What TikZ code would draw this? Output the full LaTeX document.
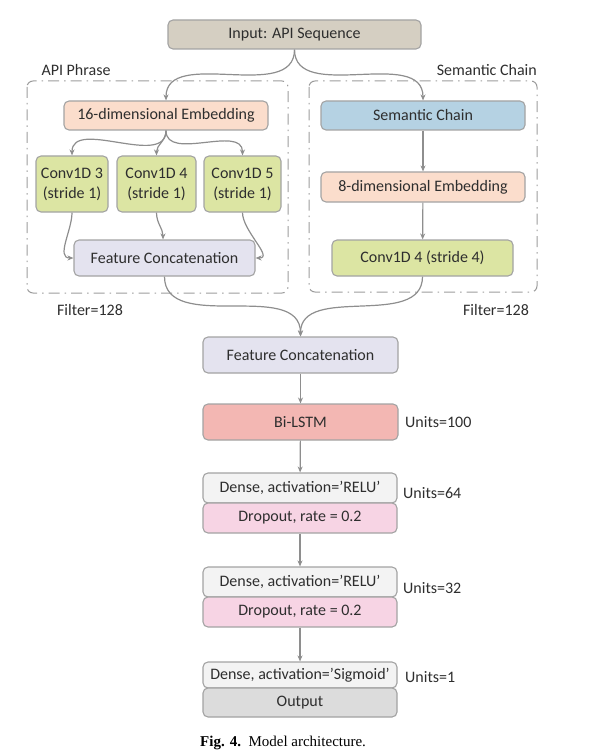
\documentclass[tikz,border=0pt]{standalone}
\usepackage{fontspec}
\setmainfont{Carlito}
\newfontfamily\capfont{Liberation Serif}
\usetikzlibrary{arrows.meta}
\definecolor{bordc}{HTML}{A3A3A3}
\definecolor{arrc}{HTML}{8E8E8E}
\definecolor{txtc}{HTML}{2E2E2E}
\definecolor{inpc}{HTML}{D5CFC2}
\definecolor{peach}{HTML}{FBDDCC}
\definecolor{greenc}{HTML}{DCE5A3}
\definecolor{lavc}{HTML}{E4E3EF}
\definecolor{bluec}{HTML}{B5D2E3}
\definecolor{salmc}{HTML}{F3B7B3}
\definecolor{whc}{HTML}{F3F3F3}
\definecolor{pinkc}{HTML}{F7D4E4}
\definecolor{grayc}{HTML}{DCDCDC}
\definecolor{dashc}{HTML}{9C9C9C}
\tikzset{
  blk/.style={draw=bordc, line width=1.1pt, rounded corners=5pt, inner sep=0pt,
    text=txtc, font=\fontsize{16}{20}\selectfont, align=center},
  lbl/.style={text=txtc, font=\fontsize{16}{20}\selectfont, inner sep=0pt},
  arr/.style={draw=arrc, line width=1.2pt, -{Stealth[length=6pt,width=5pt]}},
  grp/.style={draw=dashc, line width=1pt, rounded corners=6pt,
    dash pattern=on 11pt off 5pt on 1.5pt off 5pt}
}
\begin{document}
\begin{tikzpicture}[x=1pt,y=-1pt]
\useasboundingbox (0,0) rectangle (590,754);
% groups
\draw[grp] (27,81) rectangle (288,293);
\draw[grp] (309,81) rectangle (537,292);
\node[lbl] (lapi) at (76,70) {API Phrase};
\node[lbl, anchor=east] (lsem) at (537,70) {Semantic Chain};
\node[lbl] (fil1) at (90,310) {Filter=128};
\node[lbl] (fil2) at (496,310) {Filter=128};
% nodes
\node[blk, fill=inpc, minimum width=253pt, minimum height=29pt] (inp) at (294.5,34.5) {Input: API Sequence};
\node[blk, fill=peach, minimum width=204pt, minimum height=29pt] (emb16) at (166,115.5) {16-dimensional Embedding};
\node[blk, fill=greenc, minimum width=72pt, minimum height=56pt] (c3) at (72,184) {Conv1D 3\\(stride 1)};
\node[blk, fill=greenc, minimum width=79pt, minimum height=56pt] (c4) at (156.5,184) {Conv1D 4\\(stride 1)};
\node[blk, fill=greenc, minimum width=77pt, minimum height=56pt] (c5) at (242.5,184) {Conv1D 5\\(stride 1)};
\node[blk, fill=lavc, minimum width=181pt, minimum height=36pt] (fcl) at (164.5,258) {Feature Concatenation};
\node[blk, fill=bluec, minimum width=204pt, minimum height=29pt] (sem) at (423,115.5) {Semantic Chain};
\node[blk, fill=peach, minimum width=204pt, minimum height=30pt] (emb8) at (423,187) {8-dimensional Embedding};
\node[blk, fill=greenc, minimum width=181pt, minimum height=36pt] (c4s) at (422.5,258) {Conv1D 4 (stride 4)};
\node[blk, fill=lavc, minimum width=195pt, minimum height=36pt] (fc) at (300.5,355) {Feature Concatenation};
\node[blk, fill=salmc, minimum width=195pt, minimum height=36pt] (lstm) at (300.5,422) {Bi-LSTM};
\node[blk, fill=whc, minimum width=194pt, minimum height=30pt] (d1) at (300,488) {Dense, activation=’RELU’};
\node[blk, fill=pinkc, minimum width=194pt, minimum height=30pt] (do1) at (300,518) {Dropout, rate = 0.2};
\node[blk, fill=whc, minimum width=194pt, minimum height=30pt] (d2) at (300,582) {Dense, activation=’RELU’};
\node[blk, fill=pinkc, minimum width=194pt, minimum height=30pt] (do2) at (300,612) {Dropout, rate = 0.2};
\node[blk, fill=whc, minimum width=194pt, minimum height=26pt] (ds) at (300,675) {Dense, activation=’Sigmoid’};
\node[blk, fill=grayc, minimum width=194pt, minimum height=29pt] (out) at (300,702.5) {Output};
% unit labels
\node[lbl, anchor=west] (u1) at (405,422) {Units=100};
\node[lbl, anchor=west] (u2) at (403,493) {Units=64};
\node[lbl, anchor=west] (u3) at (403,588) {Units=32};
\node[lbl, anchor=west] (u4) at (405,677) {Units=1};
% caption
\node[anchor=west, inner sep=0pt, font=\capfont\fontsize{15}{18}\selectfont] (cap) at (200,743) {\textbf{Fig. 4.}\enspace Model architecture.};
% connectors
\draw[arr] (inp.south) to[out=-90,in=90] (emb16.north);
\draw[arr] (inp.south) to[out=-90,in=90] (sem.north);
\draw[arr] (emb16.south) to[out=-90,in=90] (c3.north);
\draw[arr] (emb16.south) to[out=-90,in=90] (c4.north);
\draw[arr] (emb16.south) to[out=-90,in=90] (c5.north);
\draw[arr] (c3.south) to[out=-90,in=180] (fcl.west);
\draw[arr] (c4.south) to[out=-90,in=90] ([xshift=-1.5pt]fcl.north);
\draw[arr] (c5.south) to[out=-90,in=0] (fcl.east);
\draw[arr] (sem) -- (emb8);
\draw[arr] (emb8) -- (c4s);
\draw[arr] (fcl.south) to[out=-90,in=90] (fc.north);
\draw[arr] (c4s.south) to[out=-90,in=90] (fc.north);
\draw[arr] (fc) -- (lstm);
\draw[arr] (lstm) -- (d1);
\draw[arr] (do1) -- (d2);
\draw[arr] (do2) -- (ds);
\end{tikzpicture}
\end{document}
